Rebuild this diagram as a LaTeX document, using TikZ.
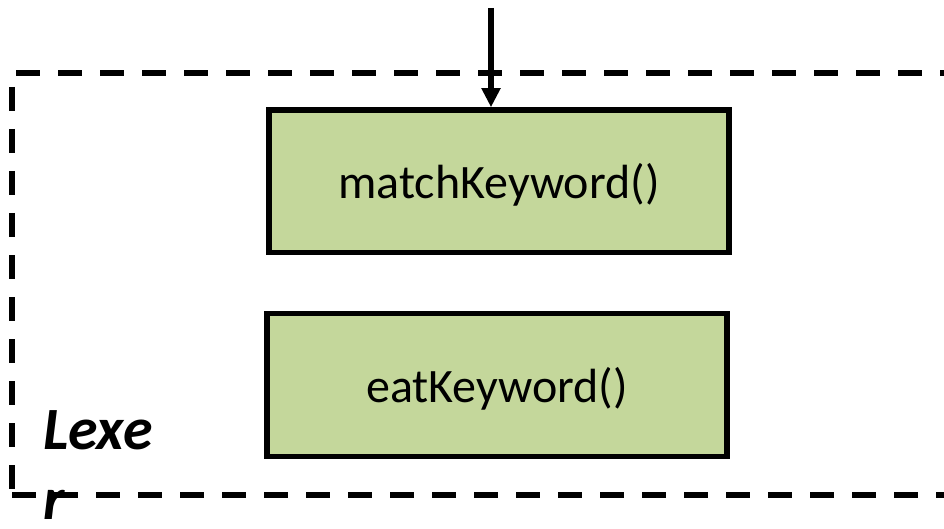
\documentclass[tikz,border=0pt]{standalone}
\usepackage{fontspec}
\setmainfont{Carlito}
\usetikzlibrary{arrows.meta}
\definecolor{boxgreen}{HTML}{C4D79B}
\tikzset{
  funcbox/.style={draw=black, fill=boxgreen, line width=5.5pt, minimum width=460pt, inner sep=0pt,
    text depth=0pt, font=\fontsize{48}{58}\selectfont},
  dashline/.style={draw=black, line width=6pt, dash pattern=on 24pt off 18pt},
  flowarrow/.style={draw=black, line width=5.5pt, -{Triangle[length=19pt, width=18pt]}},
  lexlabel/.style={anchor=north west, inner sep=0pt, align=left,
    font=\fontsize{60}{70}\selectfont\bfseries\itshape}
}
\begin{document}
\begin{tikzpicture}[x=1pt, y=-1pt]
\useasboundingbox (0,0) rectangle (944,529);
% dashed container
\coordinate (tl) at (16,73.5);
\coordinate (tr) at (960,73.5);
\coordinate (bl) at (12,495);
\coordinate (br) at (960,495);
\coordinate (lt) at (11.5,87);
\coordinate (lb) at (11.5,489);
\draw[dashline] (tl) -- (tr);
\draw[dashline] (bl) -- (br);
\draw[dashline] (lt) -- (lb);
% boxes
\node[funcbox, minimum height=142.5pt] (match) at (499,181.25) {matchKeyword()};
\node[funcbox, minimum height=143pt] (eat) at (497,385) {eatKeyword()};
% incoming arrow
\coordinate (top) at (491,8);
\draw[flowarrow] (top) -- (top |- match.north);
% label
\node[lexlabel] (lexer) at (43,410) {Lexe\\r};
\end{tikzpicture}
\end{document}
